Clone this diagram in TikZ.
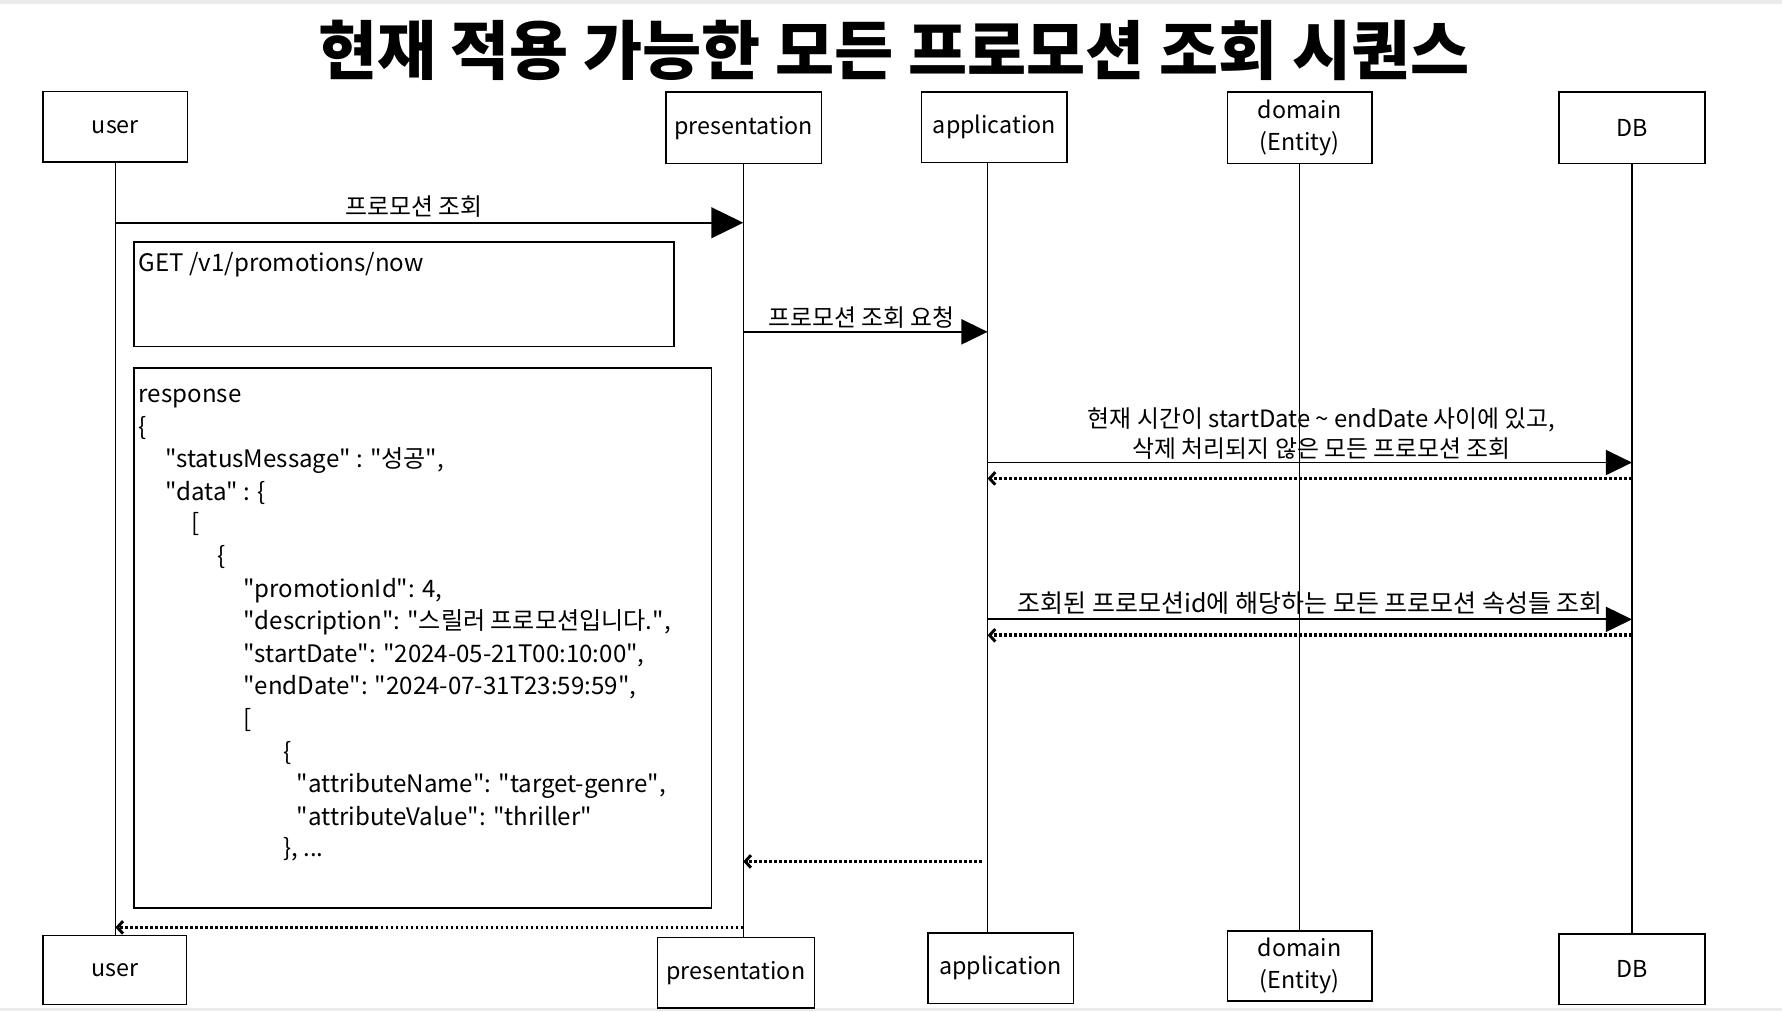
\documentclass[tikz,border=0pt]{standalone}
\usepackage{fontspec}
\setmainfont{Noto Sans CJK KR}
\usetikzlibrary{arrows.meta}
\newcommand{\qdq}{\textquotedbl{}}
\begin{document}
\begin{tikzpicture}[x=1pt,y=-1pt,
  actor/.style={draw, line width=1.4pt, inner sep=0pt, align=center,
    font=\fontsize{20.5}{28}\selectfont},
  life/.style={line width=1.2pt},
  msg/.style={line width=1.6pt},
  bigtip/.style={-{Triangle[length=28pt,width=27pt]}},
  midtip/.style={-{Triangle[length=23pt,width=22pt]}},
  ret/.style={line width=3.2pt, dash pattern=on 2.4pt off 2pt,
    -{Straight Barb[length=5pt,width=11pt,line width=2.6pt]}},
  note/.style={draw, line width=1.4pt, inner sep=0pt},
  lbl/.style={font=\fontsize{21}{27}\selectfont, inner sep=0pt, align=center},
  body/.style={font=\fontsize{21.2}{28}\selectfont, inner sep=0pt, anchor=base west}
]
\useasboundingbox (0,0) rectangle (1568,890);
\fill[white] (0,0) rectangle (1568,890);
\fill[black!8] (0,0) rectangle (1568,3.5);
\fill[black!8] (0,887) rectangle (1568,890);

% title
\node[font=\bfseries\fontsize{56.5}{64}\selectfont, inner sep=0pt] (title) at (786.5,44) {현재 적용 가능한 모든 프로모션 조회 시퀀스};

% top actors
\node[actor, minimum width=127pt, minimum height=62pt] (ut) at (101.5,111.5) {user};
\node[actor, minimum width=137pt, minimum height=63pt] (pt) at (654.5,112.5) {presentation};
\node[actor, minimum width=128pt, minimum height=62pt] (at) at (875,112) {application};
\node[actor, minimum width=127pt, minimum height=63pt] (dt) at (1143.5,112.5) {domain\\(Entity)};
\node[actor, minimum width=128pt, minimum height=63pt] (bt) at (1436,112.5) {DB};

% bottom actors
\node[actor, minimum width=126pt, minimum height=61pt] (ub) at (101,853.5) {user};
\node[actor, minimum width=138pt, minimum height=62pt] (pb) at (647.5,856) {presentation};
\node[actor, minimum width=128pt, minimum height=62pt] (ab) at (880.5,852) {application};
\node[actor, minimum width=127pt, minimum height=62pt] (db) at (1143.5,850) {domain\\(Entity)};
\node[actor, minimum width=128pt, minimum height=62pt] (bb) at (1436,853) {DB};

% lifelines
\draw[life] (ut.south) -- (ut.south |- ub.north);
\draw[life] (654,143.9) coordinate (pls) -- (pls |- pb.north);
\draw[life] (869,143) coordinate (als) -- (als |- ab.north);
\draw[life] (dt.south) -- (dt.south |- db.north);
\draw[life] (bt.south) -- (bt.south |- bb.north);

% notes
\node[note, minimum width=475pt, minimum height=92pt] (getnote) at (355.5,259) {};
\node[body] (gettxt) at (122,239) {GET /v1/promotions/now};
\node[note, minimum width=508pt, minimum height=475pt] (resnote) at (372,561.5) {};
\node[body] (r1) at (122,354) {response};
\node[body] (r2) at (122,383) {\{};
\node[body] (r3) at (145,411) {\qdq statusMessage\qdq\ : \qdq 성공\qdq,};
\node[body] (r4) at (145,440) {\qdq data\qdq\ : \{};
\node[body] (r5) at (168,468) {[};
\node[body] (r6) at (191,497) {\{};
\node[body] (r7) at (214,526) {\qdq promotionId\qdq: 4,};
\node[body] (r8) at (214,554) {\qdq description\qdq: \qdq 스릴러 프로모션입니다.\qdq,};
\node[body] (r9) at (214,583) {\qdq startDate\qdq: \qdq 2024-05-21T00:10:00\qdq,};
\node[body] (r10) at (214,611) {\qdq endDate\qdq: \qdq 2024-07-31T23:59:59\qdq,};
\node[body] (r11) at (214,640) {[};
\node[body] (r12) at (249,669) {\{};
\node[body] (r13) at (261,697) {\qdq attributeName\qdq: \qdq target-genre\qdq,};
\node[body] (r14) at (261,726) {\qdq attributeValue\qdq: \qdq thriller\qdq};
\node[body] (r15) at (249,754) {\}, ...};

% message coordinates
\coordinate (m1a) at (ut.south |- 0,196);
\coordinate (m1b) at (pls |- 0,196);
\coordinate (m2a) at (pls |- 0,292);
\coordinate (m2b) at (als |- 0,292);
\coordinate (m3a) at (als |- 0,407);
\coordinate (m3b) at (bt.south |- 0,407);
\coordinate (m4a) at (bt.south |- 0,421);
\coordinate (m4b) at (als |- 0,421);
\coordinate (m5a) at (als |- 0,545);
\coordinate (m5b) at (bt.south |- 0,545);
\coordinate (m6a) at (bt.south |- 0,559);
\coordinate (m6b) at (als |- 0,559);
\coordinate (m7a) at (864,758);
\coordinate (m7b) at (pls |- 0,758);
\coordinate (m8a) at (pls |- 0,816);
\coordinate (m8b) at (ut.south |- 0,816);

% messages
\draw[msg, bigtip] (m1a) -- (m1b);
\node[lbl] (l1) at (364,182) {프로모션 조회};
\draw[msg, midtip] (m2a) -- (m2b);
\node[lbl] (l2) at (758,279) {프로모션 조회 요청};
\draw[msg, midtip] (m3a) -- (m3b);
\node[lbl] (l3) at (1163,381.5) {현재 시간이 startDate \textasciitilde{} endDate 사이에 있고,\\삭제 처리되지 않은 모든 프로모션 조회};
\draw[ret] (m4a) -- (m4b);
\draw[msg, midtip] (m5a) -- (m5b);
\node[lbl, font=\fontsize{22}{27}\selectfont] (l5) at (1153,531) {조회된 프로모션id에 해당하는 모든 프로모션 속성들 조회};
\draw[ret] (m6a) -- (m6b);
\draw[ret] (m7a) -- (m7b);
\draw[ret] (m8a) -- (m8b);
\end{tikzpicture}
\end{document}
